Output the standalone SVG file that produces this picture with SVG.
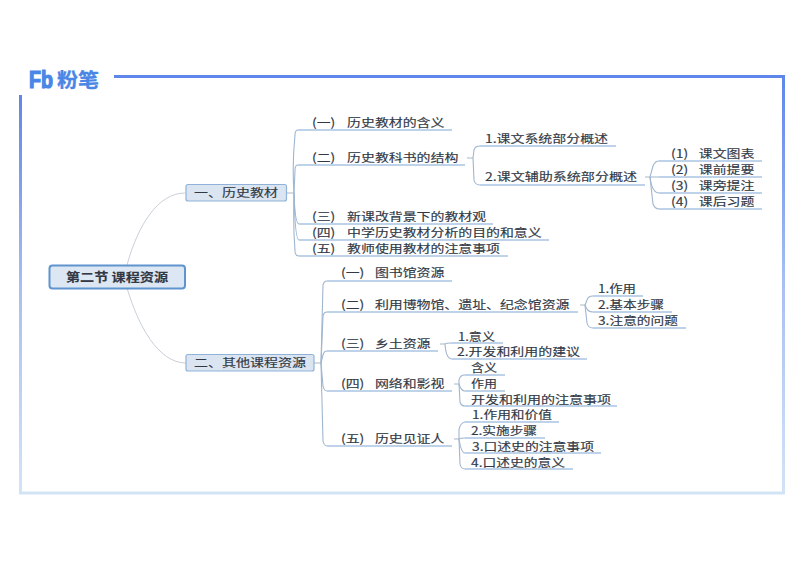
<svg xmlns="http://www.w3.org/2000/svg" width="800" height="566" viewBox="0 0 800 566">
<defs>
<linearGradient id="fl" x1="0" y1="95" x2="0" y2="493" gradientUnits="userSpaceOnUse"><stop offset="0" stop-color="#5f86ea"/><stop offset="0.5" stop-color="#a9c0f2"/><stop offset="1" stop-color="#d3e3f6"/></linearGradient>
<linearGradient id="fr" x1="0" y1="76" x2="0" y2="493" gradientUnits="userSpaceOnUse"><stop offset="0" stop-color="#5f86ea"/><stop offset="0.5" stop-color="#a9c0f2"/><stop offset="1" stop-color="#d3e3f6"/></linearGradient>
</defs>
<style>
text{font-family:"Noto Sans CJK SC","Liberation Sans",sans-serif;font-size:11.5px;fill:#323945;stroke:#323945;stroke-width:.15}
.u{fill:none;stroke:#7fa6d6;stroke-width:1.2}
.b{fill:none;stroke:#9fb6cf;stroke-width:1.1}
.r{fill:none;stroke:#c9d0d8;stroke-width:1}
.s{fill:none;stroke:#c4ccd6;stroke-width:1.4}
.n1{fill:#dbe5f2;stroke:#8fb2d8;stroke-width:1.2}
.n0{fill:#dde6f3;stroke:#5f94cf;stroke-width:2}
.lg{fill:#4a86e6;stroke:#4a86e6;font-weight:700}
</style>
<rect width="800" height="566" fill="#ffffff"/>
<g id="frame">
<rect x="114" y="75" width="671" height="3" fill="#5f86ea"/>
<rect x="19" y="95" width="3" height="399" fill="url(#fl)"/>
<rect x="782" y="76" width="3" height="418" fill="url(#fr)"/>
<rect x="19" y="491.500" width="766" height="3" fill="#d3e3f6"/>
</g>
<g id="logo">
<text x="29" y="87.500" class="lg" style="font-size:23px;stroke-width:1.2;font-family:'Liberation Sans',sans-serif" textLength="24" lengthAdjust="spacingAndGlyphs">Fb</text>
<text x="57" y="86.500" class="lg" style="font-size:19px;stroke-width:.3" textLength="42" lengthAdjust="spacingAndGlyphs">粉笔</text>
</g>
<g id="connectors">
<path class="r" d="M127 265C138 225 158 193 185 193"/>
<path class="r" d="M127 288C138 325 158 363 186 363"/>
<path class="s" d="M287 193H294"/>
<path class="s" d="M314 363H321"/>
<path class="s" d="M467 158H473"/>
<path class="s" d="M645 177H650"/>
<path class="s" d="M580 305H585"/>
<path class="s" d="M440 344H445"/>
<path class="s" d="M454 384H459"/>
<path class="s" d="M454 439H459"/>
<path class="b" d="M298 130Q295 130 295 135Q292 165 294 193Q293 225 295 251Q295 256 299 256"/>
<path class="b" d="M298 165Q295 165 295 170L294 193"/>
<path class="b" d="M294 193Q295 224 299 224"/>
<path class="b" d="M294 193Q295 240 299 240"/>
<path class="b" d="M480 146Q475 146 474 150L473 158L474 180Q475 185 480 185"/>
<path class="b" d="M659 161Q655 161 653 166L650 177L653 204Q655 209 659 209"/>
<path class="b" d="M650 177Q652 177 659 177M650 177Q652 193 659 193"/>
<path class="b" d="M327 281Q324 281 323 285L321 363L323 441Q324 446 327 446"/>
<path class="b" d="M321 363L323 316Q324 312 327 312"/>
<path class="b" d="M321 363L323 355Q324 351 327 351"/>
<path class="b" d="M321 363L323 386Q324 391 327 391"/>
<path class="b" d="M593 296Q588 296 587 300L585 305L587 323Q588 328 593 328"/>
<path class="b" d="M585 305Q587 312 593 312"/>
<path class="b" d="M451 343Q446 343 445 344Q446 359 452 359"/>
<path class="b" d="M465 375Q460 375 459 380L459 384L460 402Q461 406 465 406"/>
<path class="b" d="M459 384Q461 391 465 391"/>
<path class="b" d="M465 422Q460 423 459 430L459 439L460 464Q461 469 465 469"/>
<path class="b" d="M459 439Q460 438 465 438M459 439Q461 453 465 453"/>
<path class="u" d="M298 130H452M298 165H465M299 224H493M299 240H549M299 256H508"/>
<path class="u" d="M480 146H616M480 185H645"/>
<path class="u" d="M659 161H762M659 177H762M659 193H762M659 209H762"/>
<path class="u" d="M327 281H452M327 312H578M327 351H438M327 391H452M327 446H452"/>
<path class="u" d="M593 296H643M593 312H672M593 328H686"/>
<path class="u" d="M451 343H503M452 359H587"/>
<path class="u" d="M465 375H505M465 391H505M465 406H617"/>
<path class="u" d="M465 422H559M465 438H545M465 453H601M465 469H573"/>
</g>
<g id="root"><rect class="n0" x="49.500" y="265.500" width="135.500" height="23" rx="3"/><text x="66" y="281.500" style="font-size:12px;font-weight:700" textLength="102" lengthAdjust="spacingAndGlyphs">第二节 课程资源</text></g>
<g id="n1"><rect class="n1" x="186" y="184.500" width="100.500" height="16.500" rx="2"/><text x="194" y="197" textLength="84" lengthAdjust="spacingAndGlyphs">一、历史教材</text></g>
<g id="n2"><rect class="n1" x="186" y="354.500" width="128" height="16.500" rx="2"/><text x="194" y="367" textLength="112" lengthAdjust="spacingAndGlyphs">二、其他课程资源</text></g>
<g id="a1"><text transform="translate(312 127) scale(1.21 1)">(一) <tspan x="29">历史教材的含义</tspan></text></g>
<g id="a2"><text transform="translate(312 162) scale(1.21 1)">(二) <tspan x="29">历史教科书的结构</tspan></text></g>
<g id="a3"><text transform="translate(312 221) scale(1.21 1)">(三) <tspan x="29">新课改背景下的教材观</tspan></text></g>
<g id="a4"><text transform="translate(312 237) scale(1.21 1)">(四) <tspan x="29">中学历史教材分析的目的和意义</tspan></text></g>
<g id="a5"><text transform="translate(312 253) scale(1.21 1)">(五) <tspan x="29">教师使用教材的注意事项</tspan></text></g>
<g id="b1"><text x="485" y="143" textLength="123" lengthAdjust="spacingAndGlyphs">1.课文系统部分概述</text></g>
<g id="b2"><text x="485" y="181" textLength="152" lengthAdjust="spacingAndGlyphs">2.课文辅助系统部分概述</text></g>
<g id="c1"><text transform="translate(671 158) scale(1.21 1)">(1) <tspan x="23">课文图表</tspan></text></g>
<g id="c2"><text transform="translate(671 174) scale(1.21 1)">(2) <tspan x="23">课前提要</tspan></text></g>
<g id="c3"><text transform="translate(671 190) scale(1.21 1)">(3) <tspan x="23">课旁提注</tspan></text></g>
<g id="c4"><text transform="translate(671 206) scale(1.21 1)">(4) <tspan x="23">课后习题</tspan></text></g>
<g id="d1"><text transform="translate(341 277) scale(1.21 1)">(一) <tspan x="28">图书馆资源</tspan></text></g>
<g id="d2"><text transform="translate(341 309) scale(1.21 1)">(二) <tspan x="28">利用博物馆、遗址、纪念馆资源</tspan></text></g>
<g id="d3"><text transform="translate(341 348) scale(1.21 1)">(三) <tspan x="28">乡土资源</tspan></text></g>
<g id="d4"><text transform="translate(341 388) scale(1.21 1)">(四) <tspan x="28">网络和影视</tspan></text></g>
<g id="d5"><text transform="translate(341 443) scale(1.21 1)">(五) <tspan x="28">历史见证人</tspan></text></g>
<g id="e1"><text x="598" y="293" textLength="38" lengthAdjust="spacingAndGlyphs">1.作用</text></g>
<g id="e2"><text x="598" y="309" textLength="66" lengthAdjust="spacingAndGlyphs">2.基本步骤</text></g>
<g id="e3"><text x="598" y="325" textLength="80" lengthAdjust="spacingAndGlyphs">3.注意的问题</text></g>
<g id="f1"><text x="458" y="341" textLength="37" lengthAdjust="spacingAndGlyphs">1.意义</text></g>
<g id="f2"><text x="457" y="356" textLength="123" lengthAdjust="spacingAndGlyphs">2.开发和利用的建议</text></g>
<g id="g1"><text x="471" y="372" textLength="26" lengthAdjust="spacingAndGlyphs">含义</text></g>
<g id="g2"><text x="471" y="388" textLength="26" lengthAdjust="spacingAndGlyphs">作用</text></g>
<g id="g3"><text x="471" y="404" textLength="140" lengthAdjust="spacingAndGlyphs">开发和利用的注意事项</text></g>
<g id="h1"><text x="472" y="419" textLength="80" lengthAdjust="spacingAndGlyphs">1.作用和价值</text></g>
<g id="h2"><text x="471" y="435" textLength="66" lengthAdjust="spacingAndGlyphs">2.实施步骤</text></g>
<g id="h3"><text x="472" y="451" textLength="122" lengthAdjust="spacingAndGlyphs">3.口述史的注意事项</text></g>
<g id="h4"><text x="471" y="467" textLength="94" lengthAdjust="spacingAndGlyphs">4.口述史的意义</text></g>
</svg>
